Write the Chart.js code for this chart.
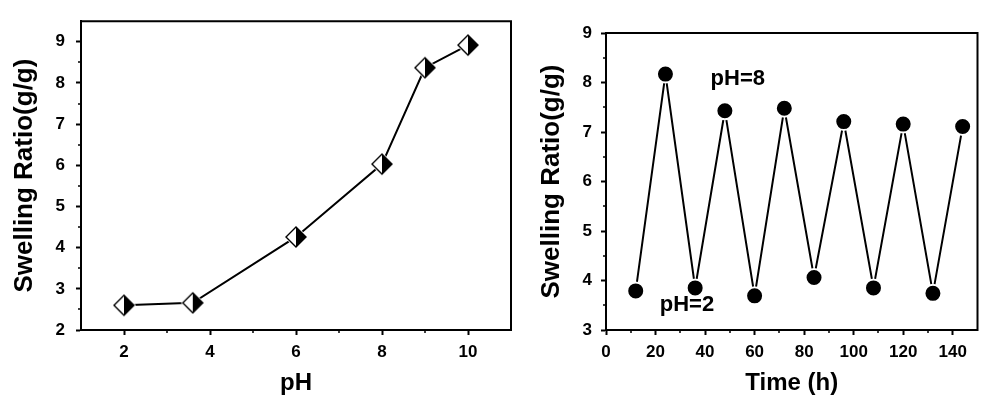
<!DOCTYPE html>
<html>
<head>
<meta charset="utf-8">
<script src="https://cdn.jsdelivr.net/npm/chart.js@4.4.1/dist/chart.umd.min.js"></script>
<style>
	html, body { margin: 0; padding: 0; background: #fff; }
	#wrap { position: relative; width: 988px; height: 396px; overflow: hidden; }
	#left-box { position: absolute; left: 0; top: 0; width: 530px; height: 396px; }
	#right-box { position: absolute; left: 530px; top: 0; width: 458px; height: 396px; }
</style>
</head>
<body>
<div id="wrap">
	<div id="left-box"><canvas id="ph-chart" width="530" height="396"></canvas></div>
	<div id="right-box"><canvas id="cycle-chart" width="458" height="396"></canvas></div>
</div>
<script>
// Swelling ratio vs pH (left panel)
var phValues = [2, 3.6, 6, 8, 9, 10];
var phSwelling = [2.6, 2.66, 4.26, 6.03, 8.37, 8.92];
var phTicks = [2, 4, 6, 8, 10];
var phMinor = [3, 5, 7, 9];
var leftYTicks = [2, 3, 4, 5, 6, 7, 8, 9];
var leftYMinor = [2.5, 3.5, 4.5, 5.5, 6.5, 7.5, 8.5];

// Pulsatile swelling, pH 2 <-> pH 8 (right panel)
var timeHours = [12, 24, 36, 48, 60, 72, 84, 96, 108, 120, 132, 144];
var cycleSwelling = [3.79, 8.17, 3.85, 7.43, 3.69, 7.48, 4.06, 7.21, 3.85, 7.16, 3.74, 7.11];
var timeTicks = [0, 20, 40, 60, 80, 100, 120, 140];
var timeMinor = [10, 30, 50, 70, 90, 110, 130];
var rightYTicks = [3, 4, 5, 6, 7, 8, 9];
var rightYMinor = [3.5, 4.5, 5.5, 6.5, 7.5, 8.5];
var phLabels = ["pH=8", "pH=2"];

Chart.defaults.font.family = "'Liberation Sans', Arial, sans-serif";
Chart.defaults.font.weight = "bold";
Chart.defaults.color = "#000";

// half open / half filled diamond marker, with a white halo so the line stops short
function makeDiamond() {
	var c = document.createElement("canvas");
	c.width = 26;
	c.height = 26;
	var g = c.getContext("2d");
	var m = 13, h = 10;
	g.fillStyle = "#fff";
	g.beginPath();
	g.moveTo(m, m - h - 2); g.lineTo(m + h + 2, m); g.lineTo(m, m + h + 2); g.lineTo(m - h - 2, m);
	g.closePath();
	g.fill();
	g.fillStyle = "#000";
	g.beginPath();
	g.moveTo(m, m - h); g.lineTo(m + h, m); g.lineTo(m, m + h);
	g.closePath();
	g.fill();
	g.strokeStyle = "#000";
	g.lineWidth = 1.4;
	g.beginPath();
	g.moveTo(m, m - h); g.lineTo(m + h, m); g.lineTo(m, m + h); g.lineTo(m - h, m);
	g.closePath();
	g.stroke();
	return c;
}

// box frame, minor ticks and text annotations
var framePlugin = {
	id: "frame",
	afterDraw: function (chart, args, opts) {
		var ctx = chart.ctx;
		var a = chart.chartArea;
		var xs = chart.scales.x, ys = chart.scales.y;
		ctx.save();
		ctx.strokeStyle = "#000";
		ctx.lineWidth = 2;
		ctx.beginPath();
		ctx.moveTo(a.left - 1, a.top);
		ctx.lineTo(a.right, a.top);
		ctx.lineTo(a.right, a.bottom + 1);
		ctx.stroke();
		ctx.lineWidth = 1.5;
		ctx.beginPath();
		(opts.xMinor || []).forEach(function (v) {
			var px = Math.round(xs.getPixelForValue(v));
			ctx.moveTo(px, a.bottom);
			ctx.lineTo(px, a.bottom + 3);
		});
		(opts.yMinor || []).forEach(function (v) {
			var py = Math.round(ys.getPixelForValue(v));
			ctx.moveTo(a.left, py);
			ctx.lineTo(a.left - 3, py);
		});
		ctx.stroke();
		(opts.texts || []).forEach(function (t) {
			ctx.font = "bold 22px 'Liberation Sans', Arial, sans-serif";
			ctx.fillStyle = "#000";
			ctx.textAlign = "center";
			ctx.textBaseline = "middle";
			ctx.fillText(t.text, xs.getPixelForValue(t.x), ys.getPixelForValue(t.y));
		});
		ctx.restore();
	}
};

function axisOpts(min, max, ticks, title, size, pad, titlePad, isX) {
	return {
		type: "linear",
		min: min,
		max: max,
		afterBuildTicks: function (s) {
			s.ticks = ticks.map(function (v) { return { value: v }; });
		},
		afterFit: function (s) {
			if (isX) s.height = size;
			else s.width = size;
		},
		border: { color: "#000", width: 2 },
		grid: { drawOnChartArea: false, tickLength: 5, tickWidth: 2, tickColor: "#000" },
		ticks: { font: { size: 17, weight: "bold" }, color: "#000", padding: pad, maxRotation: 0 },
		title: {
			display: true,
			text: title,
			color: "#000",
			font: { size: isX ? 24 : 26, weight: "bold", lineHeight: 1 },
			padding: isX ? { top: 0, bottom: titlePad } : { top: titlePad, bottom: 0 }
		}
	};
}

new Chart(document.getElementById("ph-chart"), {
	type: "line",
	data: {
		datasets: [{
			data: phValues.map(function (x, i) { return { x: x, y: phSwelling[i] }; }),
			borderColor: "#000",
			borderWidth: 2,
			tension: 0,
			pointStyle: makeDiamond(),
			pointRadius: 10
		}]
	},
	options: {
		responsive: false,
		animation: false,
		layout: { padding: { top: 15, right: 19, left: 0, bottom: 0 } },
		plugins: {
			legend: { display: false },
			tooltip: { enabled: false },
			frame: { xMinor: phMinor, yMinor: leftYMinor }
		},
		scales: {
			x: axisOpts(1, 11, phTicks, "pH", 66, 7, 1, true),
			y: axisOpts(2, 9.5, leftYTicks, "Swelling Ratio(g/g)", 81, 11, 12, false)
		}
	},
	plugins: [framePlugin]
});

new Chart(document.getElementById("cycle-chart"), {
	type: "line",
	data: {
		datasets: [{
			data: timeHours.map(function (x, i) { return { x: x, y: cycleSwelling[i] }; }),
			borderColor: "#000",
			borderWidth: 2,
			tension: 0,
			pointStyle: "circle",
			pointRadius: 8.5,
			pointBackgroundColor: "#000",
			pointBorderColor: "#fff",
			pointBorderWidth: 2
		}]
	},
	options: {
		responsive: false,
		animation: false,
		layout: { padding: { top: 33, right: 3, left: 0, bottom: 0 } },
		plugins: {
			legend: { display: false },
			tooltip: { enabled: false },
			frame: {
				xMinor: timeMinor,
				yMinor: rightYMinor,
				texts: [
					{ text: phLabels[0], x: 53.2, y: 8.07 },
					{ text: phLabels[1], x: 32.7, y: 3.5 }
				]
			}
		},
		scales: {
			x: axisOpts(0, 150, timeTicks, "Time (h)", 66, 7, 1, true),
			y: axisOpts(3, 9, rightYTicks, "Swelling Ratio(g/g)", 76, 9, 9, false)
		}
	},
	plugins: [framePlugin]
});
</script>
</body>
</html>
